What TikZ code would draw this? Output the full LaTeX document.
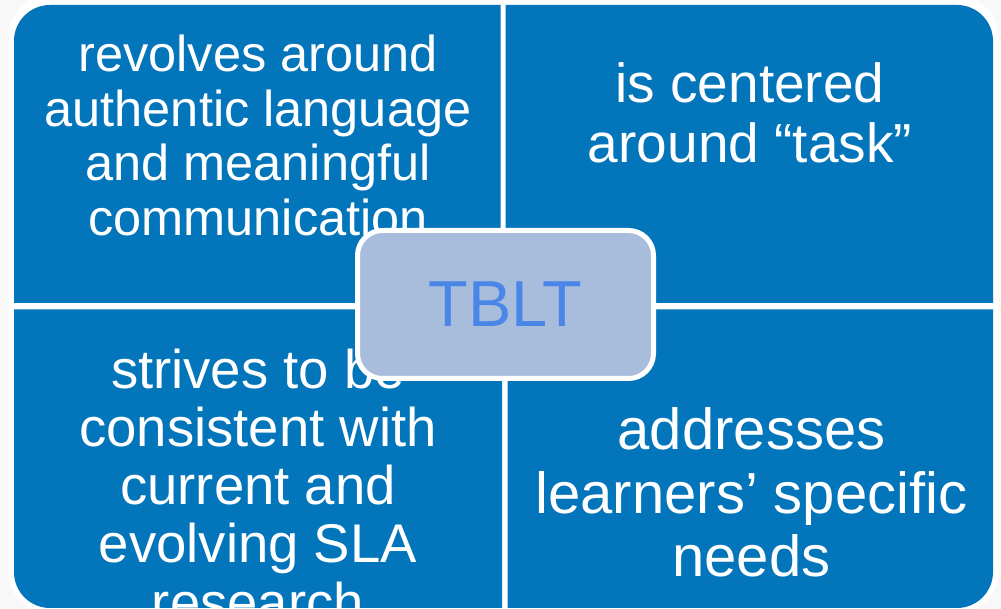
\documentclass[tikz,border=0pt]{standalone}
\usepackage{fontspec}
\setmainfont{Liberation Sans}
\definecolor{qblue}{HTML}{0275BB}
\definecolor{boxfill}{HTML}{A8BCDC}
\definecolor{boxtext}{HTML}{4A86E8}
\definecolor{bggray}{HTML}{F8F8F8}
\begin{document}
\begin{tikzpicture}[x=1pt,y=1pt,
  quad/.style={fill=qblue},
  qtext/.style={anchor=base,inner sep=0pt,text=white},
  centerbox/.style={draw=white,line width=5pt,fill=boxfill,rounded corners=25pt,
    minimum width=296pt,minimum height=148pt,inner sep=0pt,text=boxtext,
    font=\fontsize{65pt}{70pt}\selectfont}]
\useasboundingbox (0,0) rectangle (1001,609);
\fill[bggray] (0,0) rectangle (1001,609);
\begin{scope}
  \clip (0,0) rectangle (1001,609);
  \fill[white,rounded corners=41.5pt] (8.5,-4.5) rectangle (998.5,613.5);
\end{scope}
% quadrants
\fill[quad] (14,306) -- (14,568) arc[start angle=180,end angle=90,radius=36] -- (500.5,604) -- (500.5,306) -- cycle;
\fill[quad] (505.7,306) -- (505.7,604) -- (957,604) arc[start angle=90,end angle=0,radius=36] -- (993,306) -- cycle;
\fill[quad] (14,299.7) -- (502,299.7) -- (502,1) -- (50,1) arc[start angle=270,end angle=180,radius=36] -- cycle;
\fill[quad] (507.7,299.7) -- (993,299.7) -- (993,37) arc[start angle=0,end angle=-90,radius=36] -- (507.7,1) -- cycle;
% texts
\node[qtext] (tl) at (258,537.3) {\parbox[t]{480pt}{\centering\fontsize{50.5pt}{54.5pt}\selectfont revolves around\\authentic language\\and meaningful\\communication}};
\node[qtext] (tr) at (750,506.7) {\parbox[t]{480pt}{\centering\fontsize{55pt}{60.6pt}\selectfont is centered\\around “task”}};
\begin{scope}
  \clip (14,299.7) -- (502,299.7) -- (502,1) -- (14,1) -- cycle;
  \node[qtext] (bl) at (258,220.7) {\parbox[t]{480pt}{\centering\fontsize{54.5pt}{58.2pt}\selectfont strives to be\\consistent with\\current and\\evolving SLA\\research}};
\end{scope}
\node[qtext] (br) at (751.5,159.6) {\parbox[t]{480pt}{\centering\fontsize{58pt}{63.7pt}\selectfont addresses\\learners’ specific\\needs}};
% center
\node[centerbox] (tblt) at (505.5,304.5) {TBLT};
\end{tikzpicture}
\end{document}
